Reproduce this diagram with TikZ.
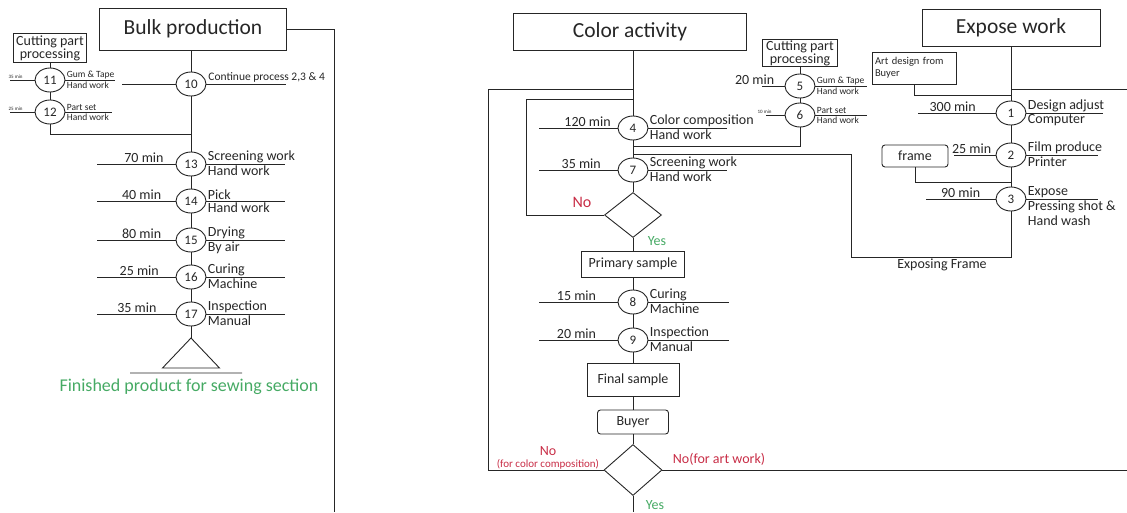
\documentclass[tikz,border=0pt]{standalone}
\usepackage{fontspec}
\setmainfont{Carlito}
\usetikzlibrary{shapes.geometric}
\definecolor{noRed}{RGB}{200,45,70}
\definecolor{yesGreen}{RGB}{70,170,100}
\newcommand\tinyf{\fontsize{5}{6}\selectfont}
\newcommand\smallf{\fontsize{9.5}{10.5}\selectfont}
\tikzset{
op/.style={draw,ellipse,minimum width=30pt,minimum height=24pt,inner sep=0pt,font=\fontsize{13}{13}\selectfont},
tx/.style={font=\fontsize{14}{15}\selectfont,inner sep=1pt},
head/.style={draw,font=\fontsize{21.5}{22}\selectfont,inner sep=0pt},
sbox/.style={draw,font=\fontsize{14}{15}\selectfont,inner sep=0pt},
cbox/.style={draw,align=center,font=\fontsize{14}{13}\selectfont,inner sep=0pt},
dec/.style={draw,diamond,inner sep=0pt}
}
\begin{document}
\begin{tikzpicture}[x=1pt,y=-1pt,line width=0.9pt,black!85]
\useasboundingbox (0,0) rectangle (1127,512);
\node[head,minimum width=187pt,minimum height=42pt] (bulk) at (193,29) {Bulk production};
\node[cbox,minimum width=73pt,minimum height=29pt] (cut1) at (50,48) {Cutting part\\processing};
\node[op] (o10) at (191,84) {10};
\node[head,minimum width=233pt,minimum height=37pt] (col) at (630,32) {Color activity};
\node[cbox,minimum width=75pt,minimum height=27pt] (cut2) at (800,53) {Cutting part\\processing};
\node[head,minimum width=178pt,minimum height=37pt] (expo) at (1011,28) {Expose work};
\node[sbox,font=\fontsize{10.5}{12}\selectfont,align=left,text width=78pt,inner xsep=3pt,minimum height=32pt] (art) at (914,68) {Art design from\\Buyer};
\node[sbox,rounded corners=3pt,minimum width=66pt,minimum height=22pt] (frame) at (915,156) {frame};
\foreach \n/\x/\y/\lw/\rw/\ps/\tm/\ta/\tb in {
11/50/80/25/50/.76/\tinyf 35 min/\smallf Gum \& Tape/\smallf Hand work,
12/50/112/25/47/.76/\tinyf 25 min/\smallf Part set/\smallf Hand work,
13/191/164/79/79/.4/70 min/Screening work/Hand work,
14/191/201/79/79/.43/40 min/Pick/Hand work,
15/191/240/79/79/.43/80 min/Drying/By air,
16/191/277/79/79/.46/25 min/Curing/Machine,
17/191/314/79/79/.49/35 min/Inspection/Manual,
5/800/86/23/52/1.3/20 min/\smallf Gum \& Tape/\smallf Hand work,
6/800/115/19/52/1.05/\tinyf 10 min/\smallf Part set/\smallf Hand work,
4/633/128/79/79/.38/120 min/Color composition/Hand work,
7/633/170/79/79/.46/35 min/Screening work/Hand work,
8/633/302/79/81/.52/15 min/Curing/Machine,
9/633/340/79/81/.52/20 min/Inspection/Manual,
1/1011/113/78/77/.55/300 min/Design adjust/Computer,
2/1011/155/42/72/.57/25 min/Film produce/Printer,
3/1011/199/70/72/.5/90 min/Expose/Pressing shot \&\\Hand wash}{
\node[op] (o\n) at (\x,\y) {\n};
\draw (o\n.west) -- +(-\lw,0) node[tx,pos=\ps,above] {\tm};
\draw (o\n.east) -- +(\rw,0) node[tx,pos=0,anchor=south west] {\ta} node[tx,pos=0,anchor=north west,align=left] {\tb};
}
\node[dec,minimum width=57pt,minimum height=45pt] (d1) at (633,215) {};
\node[sbox,minimum width=103pt,minimum height=26pt] (prim) at (633,264) {Primary sample};
\node[sbox,minimum width=92pt,minimum height=33pt] (fin) at (633,380) {Final sample};
\node[sbox,rounded corners=3pt,minimum width=71pt,minimum height=24pt] (buyer) at (633,422) {Buyer};
\node[dec,minimum width=58pt,minimum height=51pt] (d2) at (633,470) {};
\coordinate (c10l) at (122,84); \coordinate (c10r) at (286,84); \coordinate (j1) at (191,134);
\coordinate (tri) at (191,338); \coordinate (r1) at (334,512);
\draw (o10 |- bulk.south) -- (o10) -- (o13) -- (o14) -- (o15) -- (o16) -- (o17) -- (tri);
\draw (cut1) -- (o11) -- (o12) |- (j1);
\draw (c10l) -- (o10) -- (c10r) (bulk.east) -| (r1);
\node[tx,font=\fontsize{11.5}{12}\selectfont,anchor=south west] (cont) at (207,84) {Continue process 2,3 \& 4};
\draw (tri) -- ++(-28.5,30) -- ++(57,0) -- cycle (130,373) -- (242,373);
\node[tx,text=yesGreen,font=\fontsize{18}{18}\selectfont] (sew) at (189,387) {Finished product for sewing section};
\coordinate (la) at (488,89); \coordinate (lb) at (526,99); \coordinate (j2) at (633,146);
\coordinate (j3) at (633,154); \coordinate (j4) at (851,257); \coordinate (end) at (633,512);
\coordinate (rb) at (1127,470); \coordinate (rt) at (1127,89); \coordinate (j5) at (1011,95); \coordinate (j6) at (1011,182);
\draw (o4 |- col.south) -- (o4) -- (o7) -- (d1) -- (prim) -- (o8) -- (o9) -- (fin) -- (buyer) -- (d2) -- (end);
\draw (d2.west) -| (la) -- (la -| o4) (d1.west) -| (lb) -- (lb -| o4);
\draw (cut2) -- (o5) -- (o6) |- (j2) (j3) -| (j4) -| (o3) (d2.east) -- (rb);
\draw (o1 |- expo.south) -- (o1) -- (o2) -- (o3) (rt) -- (rt -| o1) (art) |- (j5) (frame) |- (j6);
\node[tx,text=noRed,font=\fontsize{16}{16}\selectfont] (no1) at (582,202) {No};
\node[tx,text=yesGreen] (yes1) at (657,241) {Yes};
\node[tx,text=noRed] (no2) at (548,451) {No};
\node[tx,text=noRed,font=\fontsize{11}{12}\selectfont] (no2b) at (548,464) {(for color composition)};
\node[tx,text=noRed] (no3) at (719,459) {No(for art work)};
\node[tx,text=yesGreen] (yes2) at (655,505) {Yes};
\node[tx] (expf) at (942,265) {Exposing Frame};
\end{tikzpicture}
\end{document}
